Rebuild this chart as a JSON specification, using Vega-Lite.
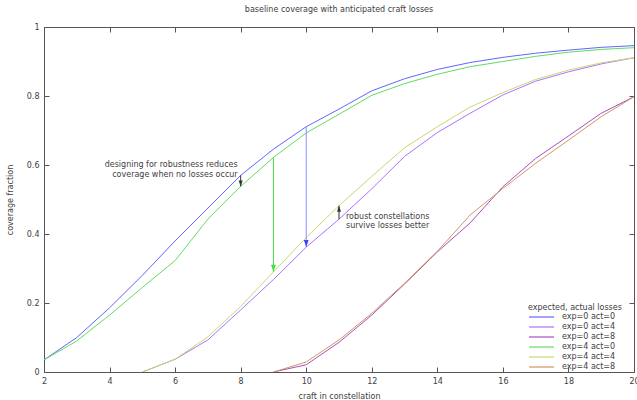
{
  "$schema": "https://vega.github.io/schema/vega-lite/v6.json",
  "width": 590,
  "height": 345,
  "autosize": {"type": "none"},
  "padding": {"left": 44, "top": 27, "right": 3, "bottom": 28},
  "background": "white",
  "config": {
    "font": "DejaVu Sans",
    "view": {"stroke": "#555", "strokeWidth": 1},
    "axis": {"grid": false, "domain": false, "tickColor": "#555", "tickSize": -5, "labelPadding": 10, "labelFontSize": 8, "labelColor": "#404040", "titleFontSize": 8, "titleFontWeight": "normal", "titleColor": "#404040", "labelFlush": false, "labelOverlap": false},
    "title": {"fontSize": 8, "fontWeight": "normal", "color": "#404040", "offset": 9}
  },
  "title": "baseline coverage with anticipated craft losses",
  "datasets": {
    "series": [
      {"craft": 2, "coverage": 0.035, "series": "exp=0 act=0"},
      {"craft": 3, "coverage": 0.100, "series": "exp=0 act=0"},
      {"craft": 4, "coverage": 0.186, "series": "exp=0 act=0"},
      {"craft": 5, "coverage": 0.280, "series": "exp=0 act=0"},
      {"craft": 6, "coverage": 0.380, "series": "exp=0 act=0"},
      {"craft": 7, "coverage": 0.475, "series": "exp=0 act=0"},
      {"craft": 8, "coverage": 0.570, "series": "exp=0 act=0"},
      {"craft": 9, "coverage": 0.646, "series": "exp=0 act=0"},
      {"craft": 10, "coverage": 0.711, "series": "exp=0 act=0"},
      {"craft": 11, "coverage": 0.762, "series": "exp=0 act=0"},
      {"craft": 12, "coverage": 0.815, "series": "exp=0 act=0"},
      {"craft": 13, "coverage": 0.850, "series": "exp=0 act=0"},
      {"craft": 14, "coverage": 0.877, "series": "exp=0 act=0"},
      {"craft": 15, "coverage": 0.897, "series": "exp=0 act=0"},
      {"craft": 16, "coverage": 0.912, "series": "exp=0 act=0"},
      {"craft": 17, "coverage": 0.924, "series": "exp=0 act=0"},
      {"craft": 18, "coverage": 0.933, "series": "exp=0 act=0"},
      {"craft": 19, "coverage": 0.941, "series": "exp=0 act=0"},
      {"craft": 20, "coverage": 0.946, "series": "exp=0 act=0"},

      {"craft": 5, "coverage": 0.0, "series": "exp=0 act=4"},
      {"craft": 6, "coverage": 0.037, "series": "exp=0 act=4"},
      {"craft": 7, "coverage": 0.093, "series": "exp=0 act=4"},
      {"craft": 8, "coverage": 0.180, "series": "exp=0 act=4"},
      {"craft": 9, "coverage": 0.268, "series": "exp=0 act=4"},
      {"craft": 10, "coverage": 0.362, "series": "exp=0 act=4"},
      {"craft": 11, "coverage": 0.443, "series": "exp=0 act=4"},
      {"craft": 12, "coverage": 0.531, "series": "exp=0 act=4"},
      {"craft": 13, "coverage": 0.625, "series": "exp=0 act=4"},
      {"craft": 14, "coverage": 0.694, "series": "exp=0 act=4"},
      {"craft": 15, "coverage": 0.750, "series": "exp=0 act=4"},
      {"craft": 16, "coverage": 0.803, "series": "exp=0 act=4"},
      {"craft": 17, "coverage": 0.843, "series": "exp=0 act=4"},
      {"craft": 18, "coverage": 0.870, "series": "exp=0 act=4"},
      {"craft": 19, "coverage": 0.893, "series": "exp=0 act=4"},
      {"craft": 20, "coverage": 0.911, "series": "exp=0 act=4"},

      {"craft": 9, "coverage": 0.0, "series": "exp=0 act=8"},
      {"craft": 10, "coverage": 0.021, "series": "exp=0 act=8"},
      {"craft": 11, "coverage": 0.086, "series": "exp=0 act=8"},
      {"craft": 12, "coverage": 0.165, "series": "exp=0 act=8"},
      {"craft": 13, "coverage": 0.255, "series": "exp=0 act=8"},
      {"craft": 14, "coverage": 0.348, "series": "exp=0 act=8"},
      {"craft": 15, "coverage": 0.432, "series": "exp=0 act=8"},
      {"craft": 16, "coverage": 0.537, "series": "exp=0 act=8"},
      {"craft": 17, "coverage": 0.619, "series": "exp=0 act=8"},
      {"craft": 18, "coverage": 0.684, "series": "exp=0 act=8"},
      {"craft": 19, "coverage": 0.750, "series": "exp=0 act=8"},
      {"craft": 20, "coverage": 0.798, "series": "exp=0 act=8"},

      {"craft": 2, "coverage": 0.035, "series": "exp=4 act=0"},
      {"craft": 3, "coverage": 0.090, "series": "exp=4 act=0"},
      {"craft": 4, "coverage": 0.165, "series": "exp=4 act=0"},
      {"craft": 5, "coverage": 0.245, "series": "exp=4 act=0"},
      {"craft": 6, "coverage": 0.323, "series": "exp=4 act=0"},
      {"craft": 7, "coverage": 0.443, "series": "exp=4 act=0"},
      {"craft": 8, "coverage": 0.538, "series": "exp=4 act=0"},
      {"craft": 9, "coverage": 0.622, "series": "exp=4 act=0"},
      {"craft": 10, "coverage": 0.693, "series": "exp=4 act=0"},
      {"craft": 11, "coverage": 0.747, "series": "exp=4 act=0"},
      {"craft": 12, "coverage": 0.802, "series": "exp=4 act=0"},
      {"craft": 13, "coverage": 0.836, "series": "exp=4 act=0"},
      {"craft": 14, "coverage": 0.863, "series": "exp=4 act=0"},
      {"craft": 15, "coverage": 0.885, "series": "exp=4 act=0"},
      {"craft": 16, "coverage": 0.900, "series": "exp=4 act=0"},
      {"craft": 17, "coverage": 0.915, "series": "exp=4 act=0"},
      {"craft": 18, "coverage": 0.927, "series": "exp=4 act=0"},
      {"craft": 19, "coverage": 0.935, "series": "exp=4 act=0"},
      {"craft": 20, "coverage": 0.940, "series": "exp=4 act=0"},

      {"craft": 5, "coverage": 0.0, "series": "exp=4 act=4"},
      {"craft": 6, "coverage": 0.037, "series": "exp=4 act=4"},
      {"craft": 7, "coverage": 0.102, "series": "exp=4 act=4"},
      {"craft": 8, "coverage": 0.190, "series": "exp=4 act=4"},
      {"craft": 9, "coverage": 0.290, "series": "exp=4 act=4"},
      {"craft": 10, "coverage": 0.390, "series": "exp=4 act=4"},
      {"craft": 11, "coverage": 0.482, "series": "exp=4 act=4"},
      {"craft": 12, "coverage": 0.567, "series": "exp=4 act=4"},
      {"craft": 13, "coverage": 0.650, "series": "exp=4 act=4"},
      {"craft": 14, "coverage": 0.711, "series": "exp=4 act=4"},
      {"craft": 15, "coverage": 0.768, "series": "exp=4 act=4"},
      {"craft": 16, "coverage": 0.810, "series": "exp=4 act=4"},
      {"craft": 17, "coverage": 0.848, "series": "exp=4 act=4"},
      {"craft": 18, "coverage": 0.875, "series": "exp=4 act=4"},
      {"craft": 19, "coverage": 0.896, "series": "exp=4 act=4"},
      {"craft": 20, "coverage": 0.911, "series": "exp=4 act=4"},

      {"craft": 9, "coverage": 0.0, "series": "exp=4 act=8"},
      {"craft": 10, "coverage": 0.029, "series": "exp=4 act=8"},
      {"craft": 11, "coverage": 0.093, "series": "exp=4 act=8"},
      {"craft": 12, "coverage": 0.170, "series": "exp=4 act=8"},
      {"craft": 13, "coverage": 0.257, "series": "exp=4 act=8"},
      {"craft": 14, "coverage": 0.350, "series": "exp=4 act=8"},
      {"craft": 15, "coverage": 0.455, "series": "exp=4 act=8"},
      {"craft": 16, "coverage": 0.532, "series": "exp=4 act=8"},
      {"craft": 17, "coverage": 0.605, "series": "exp=4 act=8"},
      {"craft": 18, "coverage": 0.672, "series": "exp=4 act=8"},
      {"craft": 19, "coverage": 0.740, "series": "exp=4 act=8"},
      {"craft": 20, "coverage": 0.798, "series": "exp=4 act=8"}
    ],
    "arrows": [
      {"id": "n1", "craft": 8, "from": 0.570, "to": 0.538},
      {"id": "g", "craft": 9, "from": 0.622, "to": 0.290},
      {"id": "b", "craft": 10, "from": 0.711, "to": 0.362},
      {"id": "n2", "craft": 11, "from": 0.443, "to": 0.482}
    ]
  },
  "layer": [
    {
      "data": {"name": "series"},
      "mark": {"type": "line", "strokeWidth": 1, "clip": true},
      "encoding": {
        "x": {"field": "craft", "type": "quantitative", "scale": {"domain": [2, 20], "nice": false, "zero": false},
              "axis": {"values": [2, 4, 6, 8, 10, 12, 14, 16, 18, 20], "title": "craft in constellation", "titlePadding": 7}},
        "y": {"field": "coverage", "type": "quantitative", "scale": {"domain": [0, 1], "nice": false},
              "axis": {"values": [0, 0.2, 0.4, 0.6, 0.8, 1], "format": "~g", "title": "coverage fraction", "titlePadding": 12}},
        "color": {"field": "series", "type": "nominal",
          "scale": {"domain": ["exp=0 act=0", "exp=0 act=4", "exp=0 act=8", "exp=4 act=0", "exp=4 act=4", "exp=4 act=8"],
                    "range": ["#6464ff", "#b070ff", "#a850c0", "#60dd60", "#c8d870", "#d09860"]},
          "legend": {"orient": "none", "legendX": 484, "legendY": 277, "title": "expected, actual losses",
                     "symbolType": "M-1,0L4,0", "symbolSize": 100, "symbolStrokeWidth": 1.2, "labelOffset": 22,
                     "rowPadding": -0.4, "padding": 0, "titlePadding": -1, "labelFontSize": 8, "titleFontSize": 8,
                     "titleFontWeight": "normal", "titleColor": "#404040", "labelColor": "#404040", "titleLimit": 200,
                     "encode": {"symbols": {"update": {"stroke": {"scale": "color", "field": "value"}, "fill": {"value": "transparent"}, "opacity": {"value": 1}}}}}}
      }
    },
    {
      "data": {"name": "arrows"},
      "transform": [{"filter": "datum.id === 'n1' || datum.id === 'n2'"}],
      "mark": {"type": "rule", "strokeWidth": 1, "color": "#333333"},
      "encoding": {
        "x": {"field": "craft", "type": "quantitative", "axis": {"orient": "top", "labels": false, "title": null, "values": [2, 4, 6, 8, 10, 12, 14, 16, 18, 20]}},
        "y": {"field": "from", "type": "quantitative", "axis": {"orient": "right", "labels": false, "title": null, "values": [0, 0.2, 0.4, 0.6, 0.8, 1]}},
        "y2": {"field": "to"}
      }
    },
    {
      "data": {"name": "arrows"},
      "transform": [{"filter": "datum.id === 'g'"}],
      "mark": {"type": "rule", "strokeWidth": 1, "color": "#44dd44"},
      "encoding": {
        "x": {"field": "craft", "type": "quantitative", "axis": null},
        "y": {"field": "from", "type": "quantitative", "axis": null},
        "y2": {"field": "to"}
      }
    },
    {
      "data": {"name": "arrows"},
      "transform": [{"filter": "datum.id === 'b'"}],
      "mark": {"type": "rule", "strokeWidth": 1, "color": "#8c8cff"},
      "encoding": {
        "x": {"field": "craft", "type": "quantitative", "axis": null},
        "y": {"field": "from", "type": "quantitative", "axis": null},
        "y2": {"field": "to"}
      }
    },
    {
      "data": {"name": "arrows"},
      "transform": [{"filter": "datum.id === 'n1' || datum.id === 'n2'"}],
      "mark": {"type": "point", "filled": true, "size": 64, "opacity": 1, "color": "#333333"},
      "encoding": {
        "x": {"field": "craft", "type": "quantitative", "axis": null},
        "y": {"field": "to", "type": "quantitative", "axis": null},
        "shape": {"field": "id", "type": "nominal", "scale": {"domain": ["n1", "g", "b", "n2"], "range": ["M-0.5,-1.5L0,0L0.5,-1.5Z", "M-0.6,-1.8L0,0L0.6,-1.8Z", "M-0.6,-1.8L0,0L0.6,-1.8Z", "M-0.5,1.5L0,0L0.5,1.5Z"]}, "legend": null}
      }
    },
    {
      "data": {"name": "arrows"},
      "transform": [{"filter": "datum.id === 'g'"}],
      "mark": {"type": "point", "filled": true, "size": 64, "opacity": 1, "color": "#44dd44"},
      "encoding": {
        "x": {"field": "craft", "type": "quantitative", "axis": null},
        "y": {"field": "to", "type": "quantitative", "axis": null},
        "shape": {"field": "id", "type": "nominal", "legend": null}
      }
    },
    {
      "data": {"name": "arrows"},
      "transform": [{"filter": "datum.id === 'b'"}],
      "mark": {"type": "point", "filled": true, "size": 64, "opacity": 1, "color": "#4040ff"},
      "encoding": {
        "x": {"field": "craft", "type": "quantitative", "axis": null},
        "y": {"field": "to", "type": "quantitative", "axis": null},
        "shape": {"field": "id", "type": "nominal", "legend": null}
      }
    },
    {
      "data": {"values": [
        {"craft": 8, "coverage": 0.600, "note": "designing for robustness reduces"},
        {"craft": 8, "coverage": 0.571, "note": "coverage when no losses occur"}
      ]},
      "mark": {"type": "text", "align": "right", "baseline": "middle", "dx": -3, "fontSize": 8, "color": "#404040"},
      "encoding": {
        "x": {"field": "craft", "type": "quantitative", "axis": null},
        "y": {"field": "coverage", "type": "quantitative", "axis": null},
        "text": {"field": "note"}
      }
    },
    {
      "data": {"values": [
        {"craft": 11, "coverage": 0.450, "note": "robust constellations"},
        {"craft": 11, "coverage": 0.424, "note": "survive losses better"}
      ]},
      "mark": {"type": "text", "align": "left", "baseline": "middle", "dx": 7, "fontSize": 8, "color": "#404040"},
      "encoding": {
        "x": {"field": "craft", "type": "quantitative", "axis": null},
        "y": {"field": "coverage", "type": "quantitative", "axis": null},
        "text": {"field": "note"}
      }
    }
  ],
  "resolve": {"axis": {"x": "independent", "y": "independent"}}
}
